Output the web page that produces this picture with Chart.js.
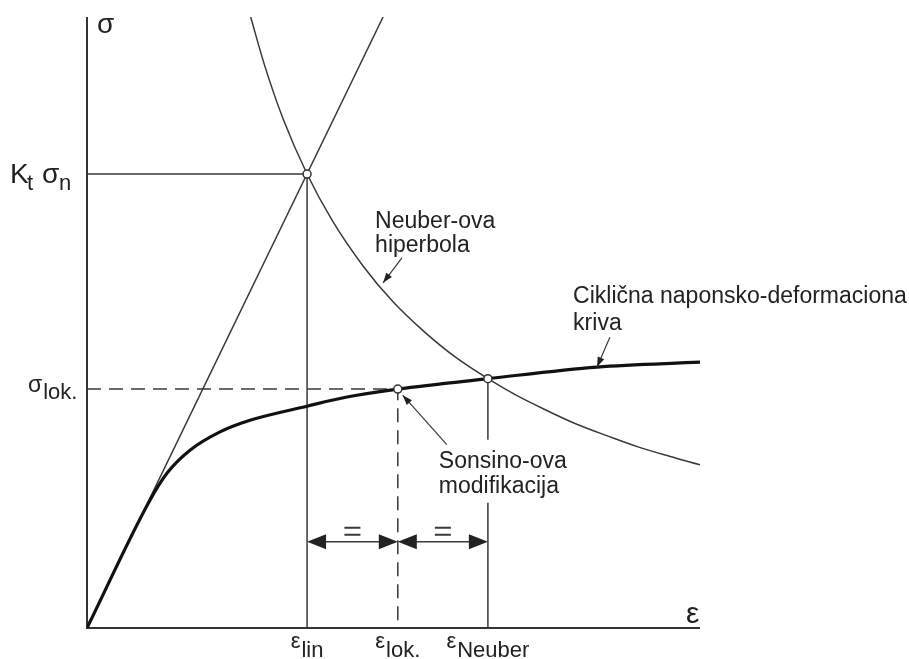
<!DOCTYPE html>
<html>
<head>
<meta charset="utf-8">
<title>Neuber / Sonsino</title>
<script src="https://cdn.jsdelivr.net/npm/chart.js@4.4.1/dist/chart.umd.min.js"></script>
<style>
	html, body { margin: 0; padding: 0; background: #fff; }
	#wrap { width: 909px; height: 659px; position: relative; }
</style>
</head>
<body>
<div id="wrap"><canvas id="neuberChart"></canvas></div>
<script>
// values (axis units 0..10 on both axes)
const cyclicEps = [0, 1.02, 1.31, 1.68, 2.17, 2.66, 3.59, 4.24, 5.07, 6.54, 8.32, 10];
const cyclicSigma = [0, 2.08, 2.54, 2.91, 3.21, 3.40, 3.63, 3.78, 3.91, 4.08, 4.27, 4.35];

const neuberEps = [2.67, 2.9, 3.2, 3.59, 4.0, 4.5, 5.0, 5.5, 6.0, 6.54, 7.0, 7.5, 8.0, 8.5, 9.0, 9.5, 10];
const neuberSigma = [10, 9.2, 8.33, 7.43, 6.67, 5.93, 5.33, 4.85, 4.44, 4.08, 3.81, 3.56, 3.33, 3.14, 2.96, 2.81, 2.67];

const elasticEps = [0, 4.83];
const elasticSigma = [0, 10];

const epsLin = 3.59;
const epsLok = 5.07;
const epsNeuber = 6.54;
const sigmaKt = 7.43;
const sigmaLok = 3.91;
const sigmaNeuber = 4.08;

const xTickValues = [epsLin, epsLok, epsNeuber];
const xTickLabels = [['ε', 'lin'], ['ε', 'lok.'], ['ε', 'Neuber']];

(() => {
	'use strict'

	const FONT = '"Liberation Sans", Arial, sans-serif';
	const LINE = '#3a3a3a';
	const TEXT = '#222';

	const toPoints = (xs, ys) => xs.map((x, i) => ({ x: x, y: ys[i] }));

	function arrowHead(ctx, tipX, tipY, fromX, fromY, len, half) {
		const a = Math.atan2(tipY - fromY, tipX - fromX);
		ctx.beginPath();
		ctx.moveTo(tipX, tipY);
		ctx.lineTo(tipX - len * Math.cos(a) + half * Math.sin(a), tipY - len * Math.sin(a) - half * Math.cos(a));
		ctx.lineTo(tipX - len * Math.cos(a) - half * Math.sin(a), tipY - len * Math.sin(a) + half * Math.cos(a));
		ctx.closePath();
		ctx.fill();
	}

	// base glyph + lowered subscript, returns total width
	function subLabel(ctx, base, sub, x, y, baseSize, subSize, drop, measureOnly) {
		ctx.font = baseSize + 'px ' + FONT;
		const wb = ctx.measureText(base).width;
		ctx.font = subSize + 'px ' + FONT;
		const ws = ctx.measureText(sub).width;
		if (!measureOnly) {
			ctx.font = baseSize + 'px ' + FONT;
			ctx.fillText(base, x, y);
			ctx.font = subSize + 'px ' + FONT;
			ctx.fillText(sub, x + wb + 1, y + drop);
		}
		return wb + ws + 1;
	}

	const notesPlugin = {
		id: 'notes',
		beforeDatasetsDraw(chart) {
			const { ctx, chartArea: area } = chart;
			ctx.save();
			ctx.strokeStyle = '#333';
			ctx.lineWidth = 2;
			ctx.beginPath();
			ctx.moveTo(area.left, area.top);
			ctx.lineTo(area.left, area.bottom);
			ctx.lineTo(area.right, area.bottom);
			ctx.stroke();
			ctx.restore();
		},
		afterDatasetsDraw(chart) {
			const { ctx, chartArea: area, scales: { x, y } } = chart;
			const px = (v) => x.getPixelForValue(v);
			const py = (v) => y.getPixelForValue(v);

			ctx.save();
			ctx.fillStyle = TEXT;
			ctx.textBaseline = 'alphabetic';
			ctx.textAlign = 'left';

			// axis names
			ctx.font = '28px ' + FONT;
			ctx.fillText('σ', area.left + 10, area.top + 16);
			ctx.font = '30px ' + FONT;
			ctx.fillText('ε', area.right - 14, area.bottom - 5);

			// y labels
			ctx.font = '28px ' + FONT;
			ctx.fillText('K', 10, py(sigmaKt) + 9);
			ctx.font = '22px ' + FONT;
			ctx.fillText('t', 27, py(sigmaKt) + 16);
			ctx.font = '28px ' + FONT;
			ctx.fillText('σ', 42, py(sigmaKt) + 9);
			ctx.font = '22px ' + FONT;
			ctx.fillText('n', 59, py(sigmaKt) + 16);
			subLabel(ctx, 'σ', 'lok.', 28, py(sigmaLok) + 3, 23, 22, 7);

			// x labels
			xTickValues.forEach((v, i) => {
				const w = subLabel(ctx, xTickLabels[i][0], xTickLabels[i][1], 0, 0, 22, 22, 10, true);
				subLabel(ctx, xTickLabels[i][0], xTickLabels[i][1], px(v) - w / 2, area.bottom + 20, 22, 22, 9);
			});

			// annotations
			ctx.font = '23px ' + FONT;
			const notes = [
				{ lines: ['Neuber-ova', 'hiperbola'], ex: 4.70, sy: 6.55, gap: 24 },
				{ lines: ['Ciklična naponsko-deformaciona', 'kriva'], ex: 7.93, sy: 5.32, gap: 27 },
				{ lines: ['Sonsino-ova', 'modifikacija'], ex: 5.74, sy: 2.62, gap: 25 }
			];
			notes.forEach((n) => {
				n.lines.forEach((t, k) => ctx.fillText(t, px(n.ex), py(n.sy) + k * n.gap));
			});

			// leader arrows
			const leaders = [
				[5.14, 6.06, 4.83, 5.65],
				[8.53, 4.76, 8.32, 4.27],
				[5.87, 3.0, 5.15, 3.81]
			];
			ctx.strokeStyle = LINE;
			ctx.fillStyle = '#222';
			ctx.lineWidth = 1.2;
			leaders.forEach(([x0, y0, x1, y1]) => {
				const ax = px(x0), ay = py(y0), bx = px(x1), by = py(y1);
				ctx.beginPath();
				ctx.moveTo(ax, ay);
				ctx.lineTo(bx, by);
				ctx.stroke();
				arrowHead(ctx, bx, by, ax, ay, 10, 3.5);
			});

			// dimension arrows with "="
			const dimY = py(1.41);
			[[epsLin, epsLok], [epsLok, epsNeuber]].forEach(([a, b]) => {
				const xa = px(a), xb = px(b);
				ctx.lineWidth = 1.5;
				ctx.beginPath();
				ctx.moveTo(xa + 10, dimY);
				ctx.lineTo(xb - 10, dimY);
				ctx.stroke();
				arrowHead(ctx, xa, dimY, xa + 20, dimY, 19, 7.5);
				arrowHead(ctx, xb, dimY, xb - 20, dimY, 19, 7.5);
				const mid = (xa + xb) / 2;
				ctx.lineWidth = 2;
				ctx.beginPath();
				ctx.moveTo(mid - 8, dimY - 14);
				ctx.lineTo(mid + 8, dimY - 14);
				ctx.moveTo(mid - 8, dimY - 7);
				ctx.lineTo(mid + 8, dimY - 7);
				ctx.stroke();
			});

			ctx.restore();
		}
	};

	const thin = { borderColor: LINE, borderWidth: 1.5, pointRadius: 0, showLine: true, fill: false };

	new Chart(document.getElementById('neuberChart'), {
		type: 'scatter',
		data: {
			datasets: [
				{
					label: 'intersections',
					data: [
						{ x: epsLin, y: sigmaKt },
						{ x: epsLok, y: sigmaLok },
						{ x: epsNeuber, y: sigmaNeuber }
					],
					pointRadius: 4,
					pointBackgroundColor: '#fff',
					pointBorderColor: '#333',
					pointBorderWidth: 1.5,
					order: -1,
					clip: false
				},
				{
					label: 'Ciklična naponsko-deformaciona kriva',
					data: toPoints(cyclicEps, cyclicSigma),
					borderColor: '#111',
					borderWidth: 3.2,
					pointRadius: 0,
					showLine: true,
					cubicInterpolationMode: 'monotone'
				},
				{
					label: 'Neuber-ova hiperbola',
					data: toPoints(neuberEps, neuberSigma),
					...thin,
					cubicInterpolationMode: 'monotone'
				},
				{
					label: 'elastic',
					data: toPoints(elasticEps, elasticSigma),
					...thin
				},
				{
					label: 'Kt sigma n',
					data: [{ x: 0, y: sigmaKt }, { x: epsLin, y: sigmaKt }, { x: epsLin, y: 0 }],
					...thin
				},
				{
					label: 'sigma lok',
					data: [{ x: 0, y: sigmaLok }, { x: epsLok, y: sigmaLok }, { x: epsLok, y: 0 }],
					...thin,
					borderDash: [14, 8]
				},
				{
					label: 'eps Neuber',
					data: [{ x: epsNeuber, y: sigmaNeuber }, { x: epsNeuber, y: 3.08 }, { x: epsNeuber, y: null }, { x: epsNeuber, y: 2.05 }, { x: epsNeuber, y: 0 }],
					...thin,
					spanGaps: false
				}
			]
		},
		options: {
			responsive: true,
			maintainAspectRatio: false,
			animation: false,
			devicePixelRatio: 1,
			layout: {
				padding: { left: 87, right: 209, top: 17, bottom: 31 }
			},
			plugins: {
				legend: { display: false },
				tooltip: { enabled: false }
			},
			scales: {
				x: { type: 'linear', min: 0, max: 10, display: false },
				y: { type: 'linear', min: 0, max: 10, display: false }
			}
		},
		plugins: [notesPlugin]
	});
})()
</script>
</body>
</html>
